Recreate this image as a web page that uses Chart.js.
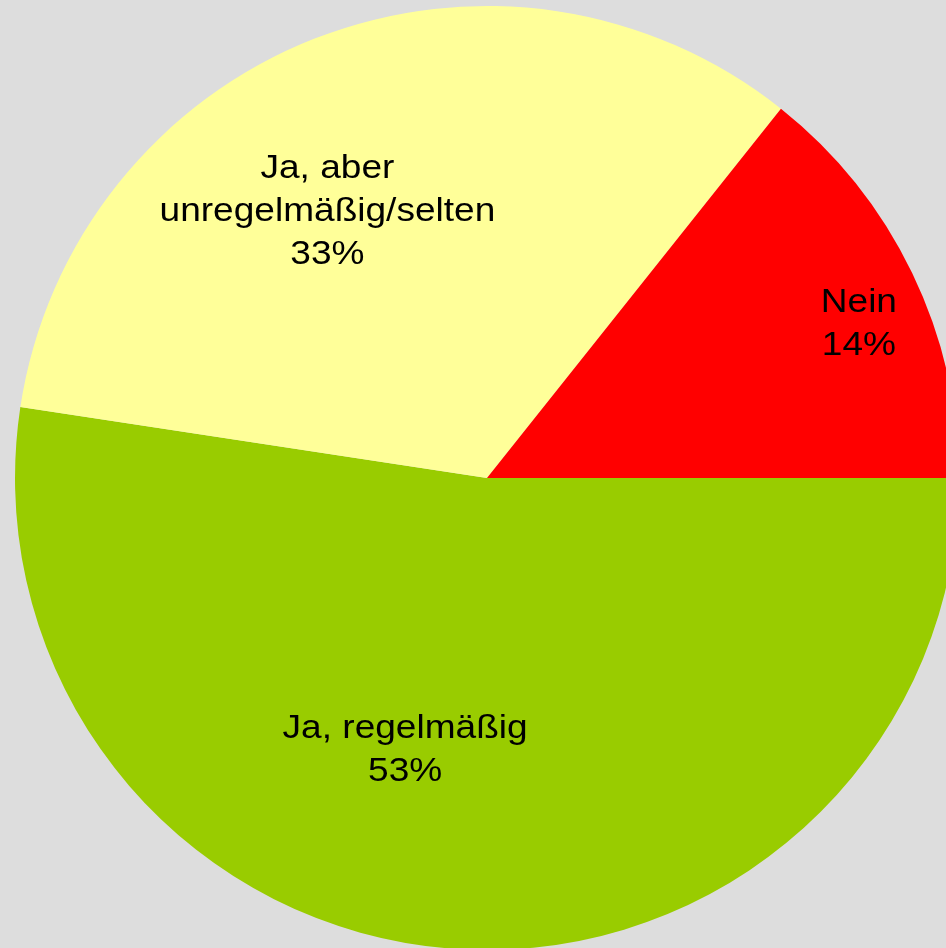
<!DOCTYPE html>
<html>
<head>
<meta charset="utf-8">
<script src="https://cdn.jsdelivr.net/npm/chart.js@4/dist/chart.umd.min.js"></script>
<style>
  html, body { margin: 0; padding: 0; background: #DDDDDD; overflow: hidden; width: 946px; height: 948px; }
  #wrap { position: absolute; left: 0; top: 0; width: 974px; height: 956px; }
</style>
</head>
<body>
<div id="wrap"><canvas id="c" width="974" height="956"></canvas></div>
<script>
// Data (clockwise from 3 o'clock)
const categories = ["Ja, regelmäßig", "Ja, aber\nunregelmäßig/selten", "Nein"];
const shares = [52.4, 33.3, 14.3];
const percentLabels = ["53%", "33%", "14%"];
const sliceColors = ["#99CC00", "#FFFF99", "#FF0000"];

// label placement relative to slice mid-angle (degrees) and radius fraction
const labelAngleOffset = [12.4, -9.5, 3.2];
const labelRadiusFrac = [0.603, 0.658, 0.853];

const labelPlugin = {
  id: 'sliceLabels',
  afterDatasetsDraw(chart) {
    const ctx = chart.ctx;
    const meta = chart.getDatasetMeta(0);
    const sx = 1.09;
    const lh = 43;
    meta.data.forEach((arc, i) => {
      const p = arc.getProps(['x', 'y', 'startAngle', 'endAngle', 'outerRadius'], true);
      const mid = (p.startAngle + p.endAngle) / 2 + labelAngleOffset[i] * Math.PI / 180;
      const r = p.outerRadius * labelRadiusFrac[i];
      const cx = p.x + Math.cos(mid) * r;
      const cy = p.y + Math.sin(mid) * r;
      const lines = categories[i].split('\n').concat([percentLabels[i]]);
      const y0 = cy - (lines.length - 1) * lh / 2;
      ctx.save();
      ctx.fillStyle = '#000000';
      ctx.font = '34px "Liberation Sans", Arial, sans-serif';
      ctx.textAlign = 'center';
      ctx.textBaseline = 'middle';
      ctx.translate(cx, 0);
      ctx.scale(sx, 1);
      lines.forEach((t, k) => ctx.fillText(t, 0, y0 + k * lh));
      ctx.restore();
    });
  }
};

new Chart(document.getElementById('c'), {
  type: 'pie',
  data: {
    labels: categories,
    datasets: [{
      data: shares,
      backgroundColor: sliceColors,
      borderWidth: 0
    }]
  },
  options: {
    responsive: false,
    animation: false,
    rotation: 90,
    layout: { padding: { left: 15, right: 15, top: 6, bottom: 6 } },
    plugins: { legend: { display: false }, tooltip: { enabled: false } }
  },
  plugins: [labelPlugin]
});
</script>
</body>
</html>
